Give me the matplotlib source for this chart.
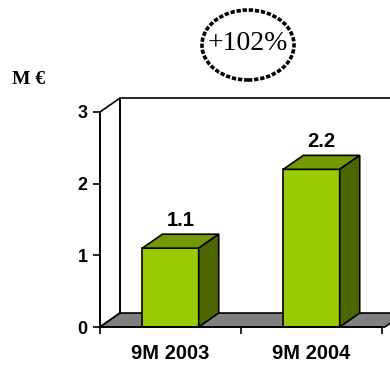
import numpy as np
import matplotlib.pyplot as plt
from matplotlib.patches import Polygon, Ellipse

# revenue, millions of euro
periods = ['9M 2003', '9M 2004']
values = [1.1, 2.2]
growth_label = '+102%'
unit_label = 'M \u20ac'
y_ticks = [0, 1, 2, 3]

FRONT = '#99CC00'
TOP = '#739900'
SIDE = '#4D6600'
FLOOR = '#808080'

# fake 3d depth, in data units
DX = 0.142
DY = 0.195
BAR_W = 0.40

fig = plt.figure(figsize=(3.9, 3.65), dpi=100)
ax = fig.add_axes([100 / 390, 38 / 365, 282 / 390, 215 / 365])
ax.set_xlim(0, len(periods))
ax.set_ylim(0, max(y_ticks))

ymax = max(y_ticks)
xmax = len(periods)

def poly(pts, fc, z):
    p = Polygon(pts, closed=True, facecolor=fc, edgecolor='black',
                linewidth=1.2, zorder=z, clip_on=False, joinstyle='miter')
    ax.add_patch(p)

# left wall, floor and back wall outline
poly([(0, 0), (0, ymax), (DX, ymax + DY), (DX, DY)], 'white', 1)
poly([(0, 0), (DX, DY), (xmax + DX + 0.02, DY), (xmax + 0.02, 0)], FLOOR, 1)
ax.plot([DX, DX, xmax + 0.5], [DY, ymax + DY, ymax + DY], color='black',
        lw=1.2, clip_on=False, zorder=1)

# bars
for i, v in enumerate(values):
    c = i + 0.5
    x0, x1 = c - BAR_W / 2, c + BAR_W / 2
    poly([(x0, 0), (x1, 0), (x1, v), (x0, v)], FRONT, 3)
    poly([(x0, v), (x1, v), (x1 + DX, v + DY), (x0 + DX, v + DY)], TOP, 3)
    poly([(x1, 0), (x1 + DX, DY), (x1 + DX, v + DY), (x1, v)], SIDE, 3)
    ax.text(c + DX / 2, v + DY + 0.06, f'{v:.1f}', ha='center', va='bottom',
            fontsize=14.5, fontweight='bold', family='Liberation Sans')

for s in ['top', 'right']:
    ax.spines[s].set_visible(False)
for s in ['left', 'bottom']:
    ax.spines[s].set_linewidth(1.2)
    ax.spines[s].set_zorder(4)

ax.set_yticks(y_ticks)
ax.set_yticklabels([str(t) for t in y_ticks], fontsize=13, fontweight='bold',
                   family='Liberation Sans')
ax.tick_params(axis='y', length=5, width=1.2, pad=4)

ax.set_xticks(np.arange(xmax + 1))
ax.set_xticklabels([])
ax.tick_params(axis='x', which='major', length=5, width=1.2)
ax.set_xticks(np.arange(xmax) + 0.5, minor=True)
ax.set_xticklabels(periods, minor=True, fontsize=14.5, fontweight='bold',
                   family='Liberation Sans')
ax.tick_params(axis='x', which='minor', length=0, pad=12)
ax.patch.set_visible(False)

fig.text(12 / 390, 1 - 80 / 365, unit_label, ha='left', va='center',
         fontsize=14, fontweight='bold', family='Liberation Serif')

# growth callout
fig.patches.append(Ellipse((248 / 390, 1 - 45 / 365), 92 / 390, 70 / 365,
                           transform=fig.transFigure, fill=False,
                           edgecolor='black', linewidth=2.6,
                           linestyle=(0, (1.2, 0.5))))
fig.text(248 / 390, 1 - 43 / 365, growth_label, ha='center', va='center',
         fontsize=20, family='Liberation Serif')

fig.savefig('out.png', dpi=100)
